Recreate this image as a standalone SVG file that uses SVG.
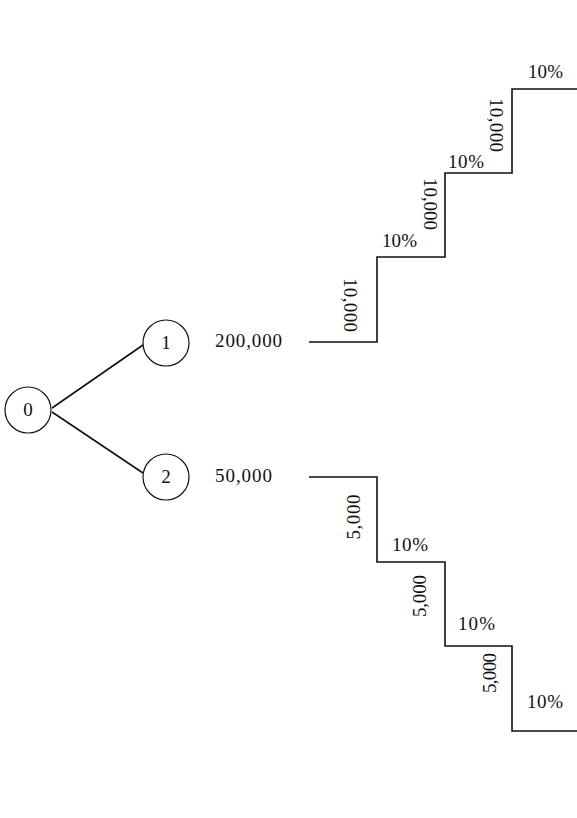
<svg xmlns="http://www.w3.org/2000/svg" width="577" height="818" viewBox="0 0 577 818">
<style>
text{font-family:"Liberation Serif","Times New Roman",serif;font-size:19px;fill:#111}
.n circle{fill:#fff;stroke:#111;stroke-width:1.2}
.c{fill:none;stroke:#111;stroke-width:1.6}
</style>
<rect width="577" height="818" fill="#fff"/>
<g id="connectors" class="c">
<line x1="52" y1="408" x2="143" y2="345"/>
<line x1="52" y1="412" x2="143" y2="473"/>
<polyline points="309,342 377,342 377,257 445,257 445,173 512,173 512,89 577,89"/>
<polyline points="309,477 377,477 377,562 445,562 445,646 512,646 512,731 577,731"/>
</g>
<g id="node0" class="n"><circle cx="28" cy="410" r="23"/><text x="28" y="416" text-anchor="middle">0</text></g>
<g id="node1" class="n"><circle cx="166" cy="343" r="23"/><text x="166" y="349" text-anchor="middle">1</text></g>
<g id="node2" class="n"><circle cx="166" cy="477" r="23"/><text x="166" y="483" text-anchor="middle">2</text></g>
<g id="labels">
<text x="215" y="347" textLength="67">200,000</text>
<text x="215" y="482" textLength="57">50,000</text>
<text transform="translate(344,305) rotate(90)" text-anchor="middle" textLength="54">10,000</text>
<text transform="translate(424,204) rotate(90)" text-anchor="middle" textLength="52">10,000</text>
<text transform="translate(490,125) rotate(90)" text-anchor="middle" textLength="54">10,000</text>
<text x="382" y="247" textLength="35">10%</text>
<text x="448" y="168" textLength="36">10%</text>
<text x="528" y="78" textLength="35">10%</text>
<text transform="translate(360,517) rotate(-90)" text-anchor="middle" textLength="45">5,000</text>
<text transform="translate(426,596) rotate(-90)" text-anchor="middle" textLength="42">5,000</text>
<text transform="translate(496,673) rotate(-90)" text-anchor="middle" textLength="40">5,000</text>
<text x="392" y="551" textLength="36">10%</text>
<text x="458" y="630" textLength="37">10%</text>
<text x="527" y="708" textLength="36">10%</text>
</g>
</svg>
